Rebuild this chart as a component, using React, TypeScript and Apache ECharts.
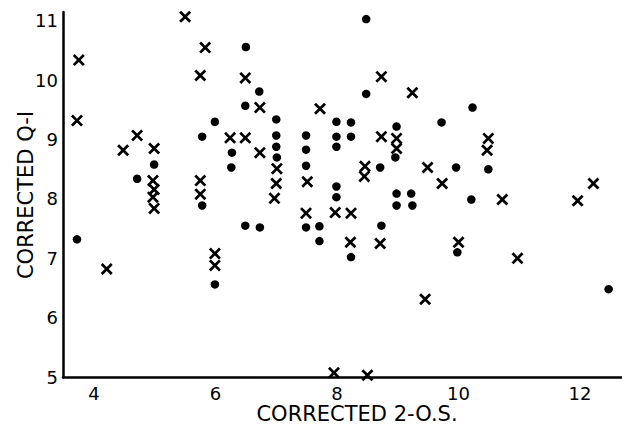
import React, { useEffect, useRef } from "react";
import * as echarts from "echarts";

// Filled dots: [corrected 2-O.S., corrected Q-I]
const dotPoints: number[][] = [
  [3.72, 7.32], [4.71, 8.34], [4.99, 8.58], [5.78, 9.05], [5.99, 9.3],
  [5.78, 7.89], [5.99, 6.56], [6.5, 10.56], [6.72, 9.81], [6.49, 9.57],
  [7.0, 9.34], [6.27, 8.78], [6.26, 8.53], [7.0, 9.07], [7.0, 8.88],
  [7.01, 8.7], [6.49, 7.55], [6.73, 7.52], [7.49, 9.07], [7.49, 8.83],
  [7.49, 8.56], [7.49, 7.52], [7.71, 7.54], [7.71, 7.29], [7.99, 9.3],
  [8.23, 9.29], [7.99, 9.05], [8.23, 9.05], [7.99, 8.88], [7.99, 8.21],
  [7.99, 8.03], [8.23, 7.02], [8.48, 11.03], [8.48, 9.77], [8.98, 9.22],
  [8.96, 8.7], [8.71, 8.53], [8.73, 7.55], [8.98, 8.09], [9.22, 8.09],
  [8.98, 7.89], [9.24, 7.89], [9.72, 9.29], [10.23, 9.54], [9.96, 8.53],
  [10.49, 8.5], [10.21, 7.99], [9.98, 7.1], [12.47, 6.48],
];

// Crosses: [corrected 2-O.S., corrected Q-I]
const crossPoints: number[][] = [
  [3.75, 10.34], [3.72, 9.32], [4.21, 6.82], [4.48, 8.82], [4.71, 9.07],
  [4.99, 8.85], [4.97, 8.31], [4.99, 8.16], [4.97, 8.03], [4.99, 7.84],
  [5.5, 11.07], [5.83, 10.55], [5.75, 10.08], [5.75, 8.31], [5.75, 8.08],
  [5.99, 7.08], [5.99, 6.88], [6.49, 10.04], [6.73, 9.54], [6.24, 9.03],
  [6.49, 9.03], [6.73, 8.78], [7.01, 8.51], [7.0, 8.26], [6.97, 8.01],
  [7.72, 9.52], [7.51, 8.29], [7.49, 7.76], [7.97, 7.77], [8.23, 7.76],
  [8.22, 7.27], [8.71, 7.25], [8.73, 10.06], [9.24, 9.79], [8.73, 9.05],
  [8.98, 9.02], [8.98, 8.85], [8.46, 8.55], [8.45, 8.38], [9.49, 8.53],
  [9.73, 8.26], [10.49, 9.02], [10.47, 8.82], [10.72, 7.99], [10.0, 7.27],
  [10.97, 7.0], [9.45, 6.31], [11.96, 7.97], [12.22, 8.26], [7.95, 5.07],
  [8.5, 5.03],
];

const xTicks = [4, 6, 8, 10, 12];
const yTicks = [5, 6, 7, 8, 9, 10, 11];

const crossSymbol =
  "path://M0,1.6 L1.6,0 L5,3.4 L8.4,0 L10,1.6 L6.6,5 L10,8.4 L8.4,10 L5,6.6 L1.6,10 L0,8.4 L3.4,5 Z";

export default function App() {
  const ref = useRef<HTMLDivElement>(null);

  useEffect(() => {
    if (!ref.current) return;
    const chart = echarts.init(ref.current, undefined, { renderer: "svg" });
    const font = "DejaVu Sans, sans-serif";
    chart.setOption({
      animation: false,
      backgroundColor: "#ffffff",
      grid: { left: 63, right: 0, top: 12, bottom: 48, containLabel: false },
      xAxis: {
        type: "value",
        min: 3.49,
        max: 12.69,
        axisLine: { show: true, onZero: false, lineStyle: { color: "#000", width: 2.5 } },
        axisTick: { show: false },
        splitLine: { show: false },
        axisLabel: {
          customValues: xTicks,
          color: "#000",
          fontFamily: font,
          fontSize: 18,
          margin: 7,
        },
      },
      yAxis: {
        type: "value",
        min: 5,
        max: 11.15,
        axisLine: { show: true, onZero: false, lineStyle: { color: "#000", width: 2.5 } },
        axisTick: { show: false },
        splitLine: { show: false },
        axisLabel: {
          customValues: yTicks,
          color: "#000",
          fontFamily: font,
          fontSize: 18,
          margin: 5,
        },
      },
      graphic: [
        {
          type: "text",
          x: 357,
          y: 414,
          style: {
            text: "CORRECTED 2-O.S.",
            fill: "#000",
            font: `21px ${font}`,
            align: "center",
            verticalAlign: "middle",
          },
        },
        {
          type: "text",
          x: 26,
          y: 195,
          rotation: Math.PI / 2,
          style: {
            text: "CORRECTED Q-I",
            fill: "#000",
            font: `21px ${font}`,
            align: "center",
            verticalAlign: "middle",
          },
        },
      ],
      series: [
        {
          type: "scatter",
          name: "dots",
          data: dotPoints,
          symbol: "circle",
          symbolSize: 8.5,
          itemStyle: { color: "#000", opacity: 1 },
        },
        {
          type: "scatter",
          name: "crosses",
          data: crossPoints,
          symbol: crossSymbol,
          symbolSize: 12,
          itemStyle: { color: "#000", opacity: 1 },
        },
      ],
    });
    return () => chart.dispose();
  }, []);

  return (
    <div
      ref={ref}
      style={{ position: "fixed", left: 0, top: 0, width: 622, height: 425 }}
    />
  );
}
